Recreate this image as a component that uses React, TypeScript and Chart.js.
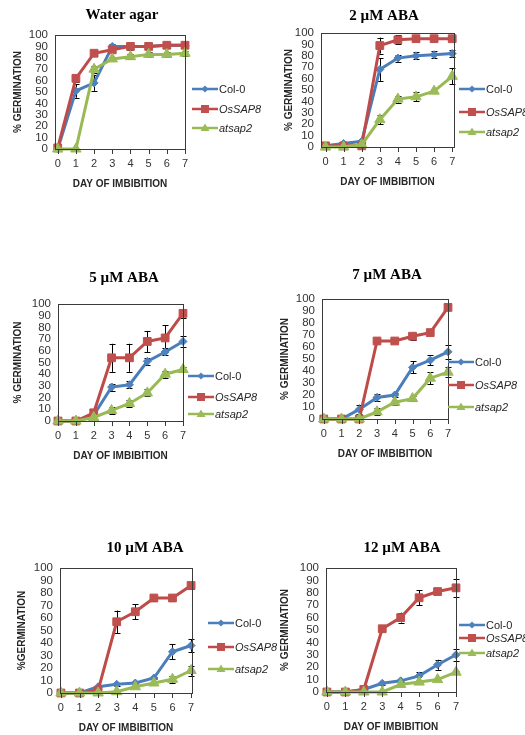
import React, { useEffect, useRef } from "react";
import { Chart, registerables } from "chart.js";
Chart.register(...registerables);

const days = [0, 1, 2, 3, 4, 5, 6, 7];
const yTickValues = [0, 10, 20, 30, 40, 50, 60, 70, 80, 90, 100];
const seriesNames = ["Col-0", "OsSAP8", "atsap2"];
const panelTitles = ["Water agar", "2 \u00b5M ABA", "5 \u00b5M ABA", "7 \u00b5M ABA", "10 \u00b5M ABA", "12 \u00b5M ABA"];
const yAxisTitles = ["% GERMINATION", "% GERMINATION", "% GERMINATION", "% GERMINATION", "%GERMINATION", "% GERMINATION"];
const xAxisTitle = "DAY OF IMBIBITION";

// Water agar
const waterCol0 = [0, 51, 58, 90, 90, 90, 91, 91];
const waterCol0Err = [0, 6, 7, 2, 2, 2, 2, 2];
const waterOsSAP8 = [1, 62, 84, 87, 90, 90, 91, 91];
const waterOsSAP8Err = [0, 3, 2, 2, 3, 2, 2, 2];
const waterAtsap2 = [0, 0, 70, 79, 81, 83, 83, 84];
const waterAtsap2Err = [0, 0, 3, 2, 2, 2, 2, 2];

// 2 uM ABA
const aba2Col0 = [1, 3, 5, 68, 78, 80, 81, 82];
const aba2Col0Err = [0, 1, 1, 10, 3, 3, 3, 3];
const aba2OsSAP8 = [1, 1, 1, 89, 94, 95, 95, 95];
const aba2OsSAP8Err = [0, 0, 0, 7, 4, 2, 2, 2];
const aba2Atsap2 = [0, 0, 2, 24, 42, 44, 49, 62];
const aba2Atsap2Err = [0, 0, 0, 4, 3, 4, 2, 7];

// 5 uM ABA
const aba5Col0 = [0, 0, 5, 29, 31, 51, 59, 68];
const aba5Col0Err = [0, 0, 1, 3, 3, 3, 3, 5];
const aba5OsSAP8 = [0, 0, 7, 54, 54, 68, 71, 92];
const aba5OsSAP8Err = [0, 0, 1, 12, 12, 9, 11, 4];
const aba5Atsap2 = [0, 0, 3, 9, 15, 24, 40, 44];
const aba5Atsap2Err = [0, 0, 1, 3, 3, 3, 3, 2];

// 7 uM ABA
const aba7Col0 = [0, 0, 8, 18, 20, 43, 49, 56];
const aba7Col0Err = [0, 0, 4, 3, 2, 5, 4, 6];
const aba7OsSAP8 = [0, 0, 0, 65, 65, 69, 72, 93];
const aba7OsSAP8Err = [0, 0, 0, 1, 1, 3, 1, 2];
const aba7Atsap2 = [0, 0, 0, 6, 14, 17, 34, 39];
const aba7Atsap2Err = [0, 0, 0, 3, 2, 2, 5, 4];

// 10 uM ABA
const aba10Col0 = [0, 0, 5, 7, 8, 12, 33, 38];
const aba10Col0Err = [0, 0, 0, 1, 1, 1, 6, 5];
const aba10OsSAP8 = [0, 0, 2, 57, 65, 76, 76, 86];
const aba10OsSAP8Err = [0, 0, 0, 9, 6, 2, 2, 3];
const aba10Atsap2 = [0, 0, 0, 1, 5, 8, 11, 18];
const aba10Atsap2Err = [0, 0, 0, 0, 1, 1, 3, 4];

// 12 uM ABA
const aba12Col0 = [0, 0, 2, 7, 9, 13, 22, 30];
const aba12Col0Err = [0, 0, 0, 1, 1, 3, 4, 5];
const aba12OsSAP8 = [0, 0, 2, 51, 60, 76, 81, 84];
const aba12OsSAP8Err = [0, 0, 0, 2, 4, 6, 2, 7];
const aba12Atsap2 = [0, 0, 0, 0, 6, 8, 10, 16];
const aba12Atsap2Err = [0, 0, 0, 0, 1, 1, 1, 1];

const panelValues = [
  [waterCol0, waterOsSAP8, waterAtsap2],
  [aba2Col0, aba2OsSAP8, aba2Atsap2],
  [aba5Col0, aba5OsSAP8, aba5Atsap2],
  [aba7Col0, aba7OsSAP8, aba7Atsap2],
  [aba10Col0, aba10OsSAP8, aba10Atsap2],
  [aba12Col0, aba12OsSAP8, aba12Atsap2],
];
const panelErrors = [
  [waterCol0Err, waterOsSAP8Err, waterAtsap2Err],
  [aba2Col0Err, aba2OsSAP8Err, aba2Atsap2Err],
  [aba5Col0Err, aba5OsSAP8Err, aba5Atsap2Err],
  [aba7Col0Err, aba7OsSAP8Err, aba7Atsap2Err],
  [aba10Col0Err, aba10OsSAP8Err, aba10Atsap2Err],
  [aba12Col0Err, aba12OsSAP8Err, aba12Atsap2Err],
];

// layout (page pixels)
const PAGE_W = 525;
const PAGE_H = 735;
const layouts = [
  { left: 55, right: 185, top: 35, bottom: 149, xMin: -0.15, xMax: 7, titleX: 122, titleY: 15, yTitleDx: -37, legX: 192, legY: [89, 109, 128] },
  { left: 321, right: 454, top: 33, bottom: 147, xMin: -0.25, xMax: 7.1, titleX: 384, titleY: 16, yTitleDx: -32, legX: 459, legY: [89, 112, 132] },
  { left: 58, right: 183, top: 304, bottom: 421, xMin: 0, xMax: 7, titleX: 124, titleY: 278, yTitleDx: -40, legX: 188, legY: [376, 397, 414] },
  { left: 322, right: 448, top: 299, bottom: 419, xMin: -0.1, xMax: 7, titleX: 387, titleY: 275, yTitleDx: -37, legX: 448, legY: [362, 385, 407] },
  { left: 60, right: 192, top: 568, bottom: 693, xMin: -0.05, xMax: 7.05, titleX: 145, titleY: 548, yTitleDx: -38, legX: 208, legY: [623, 647, 669] },
  { left: 326, right: 456, top: 568, bottom: 692, xMin: -0.05, xMax: 7, titleX: 402, titleY: 548, yTitleDx: -41, legX: 459, legY: [625, 638, 653] },
];

const lineColors = ["#4A7EBB", "#BE4B48", "#98B954"];
const fillColors = ["#4F81BD", "#C0504D", "#9BBB59"];
const pointStyles = ["rectRot", "rect", "triangle"];
const pointRadii = [4, 5.5, 6];
const legendItalic = [false, true, true];

const Y_AXIS_W = 40;
const X_AXIS_H = 24;

function makePlugin(p: number) {
  const L = layouts[p];
  return {
    id: "panel" + p,
    beforeDatasetsDraw(chart: any) {
      const ctx = chart.ctx;
      const xs = chart.scales.x;
      const ys = chart.scales.y;
      ctx.save();
      ctx.strokeStyle = "#000";
      ctx.lineWidth = 1;
      for (let s = 0; s < 3; s++) {
        const vals = panelValues[p][s];
        const errs = panelErrors[p][s];
        for (let j = 0; j < days.length; j++) {
          const e = errs[j];
          if (!e) continue;
          const x = Math.round(xs.getPixelForValue(days[j])) + 0.5;
          const y1 = ys.getPixelForValue(Math.min(100, vals[j] + e));
          const y2 = ys.getPixelForValue(Math.max(0, vals[j] - e));
          ctx.beginPath();
          ctx.moveTo(x, y1);
          ctx.lineTo(x, y2);
          ctx.moveTo(x - 3, Math.round(y1) + 0.5);
          ctx.lineTo(x + 3, Math.round(y1) + 0.5);
          if (vals[j] - e > 0) {
            ctx.moveTo(x - 3, Math.round(y2) + 0.5);
            ctx.lineTo(x + 3, Math.round(y2) + 0.5);
          }
          ctx.stroke();
        }
      }
      ctx.restore();
    },
    afterDatasetsDraw(chart: any) {
      const ctx = chart.ctx;
      const a = chart.chartArea;
      const xs = chart.scales.x;
      ctx.save();
      ctx.strokeStyle = "#3a3a3a";
      ctx.lineWidth = 1;
      ctx.strokeRect(Math.round(a.left) + 0.5, Math.round(a.top) + 0.5, Math.round(a.right - a.left), Math.round(a.bottom - a.top));
      ctx.beginPath();
      for (const d of days) {
        const x = Math.round(xs.getPixelForValue(d)) + 0.5;
        ctx.moveTo(x, Math.round(a.bottom));
        ctx.lineTo(x, Math.round(a.bottom) + 5);
      }
      ctx.stroke();
      ctx.restore();
    },
    afterDraw(chart: any) {
      const ctx = chart.ctx;
      const a = chart.chartArea;
      ctx.save();
      ctx.fillStyle = "#000";
      ctx.font = "bold 15px 'Liberation Serif'";
      ctx.textAlign = "center";
      ctx.textBaseline = "middle";
      ctx.fillText(panelTitles[p], L.titleX, L.titleY);
      ctx.fillStyle = "#262626";
      ctx.font = "bold 10px 'Liberation Sans'";
      ctx.fillText(xAxisTitle, (a.left + a.right) / 2, a.bottom + 35);
      ctx.save();
      ctx.translate(a.left + L.yTitleDx, (a.top + a.bottom) / 2);
      ctx.rotate(-Math.PI / 2);
      ctx.fillText(yAxisTitles[p], 0, 0);
      ctx.restore();
      for (let s = 0; s < 3; s++) {
        const y = L.legY[s];
        const x0 = L.legX;
        const x1 = x0 + 26;
        ctx.strokeStyle = lineColors[s];
        ctx.lineWidth = 2.5;
        ctx.beginPath();
        ctx.moveTo(x0, y);
        ctx.lineTo(x1, y);
        ctx.stroke();
        ctx.fillStyle = fillColors[s];
        const cx = (x0 + x1) / 2;
        ctx.beginPath();
        if (s === 0) {
          ctx.moveTo(cx, y - 3.5);
          ctx.lineTo(cx + 3.5, y);
          ctx.lineTo(cx, y + 3.5);
          ctx.lineTo(cx - 3.5, y);
          ctx.closePath();
        } else if (s === 1) {
          ctx.rect(cx - 4, y - 4, 8, 8);
        } else {
          ctx.moveTo(cx, y - 4.5);
          ctx.lineTo(cx + 4.5, y + 3);
          ctx.lineTo(cx - 4.5, y + 3);
          ctx.closePath();
        }
        ctx.fill();
        ctx.fillStyle = "#262626";
        ctx.font = (legendItalic[s] ? "italic " : "") + "11px 'Liberation Sans'";
        ctx.textAlign = "left";
        ctx.fillText(seriesNames[s], x1 + 1, y + 0.5);
      }
      ctx.restore();
    },
  };
}

function Panel({ p }: { p: number }) {
  const ref = useRef<HTMLCanvasElement>(null);
  useEffect(() => {
    const L = layouts[p];
    const datasets = seriesNames.map((name, s) => ({
      label: name,
      data: days.map((d, j) => ({ x: d, y: panelValues[p][s][j] })),
      borderColor: lineColors[s],
      backgroundColor: fillColors[s],
      pointBackgroundColor: fillColors[s],
      pointBorderColor: fillColors[s],
      pointStyle: pointStyles[s],
      pointRadius: pointRadii[s],
      pointBorderWidth: 1,
      borderWidth: 3,
      tension: 0,
      clip: false as any,
      order: 3 - s,
    }));
    const chart = new Chart(ref.current!, {
      type: "line",
      data: { datasets },
      plugins: [makePlugin(p)],
      options: {
        animation: false,
        responsive: false,
        events: [],
        layout: {
          padding: {
            left: L.left - Y_AXIS_W,
            top: L.top,
            right: PAGE_W - L.right,
            bottom: PAGE_H - L.bottom - X_AXIS_H,
          },
        },
        plugins: { legend: { display: false }, tooltip: { enabled: false }, title: { display: false } },
        scales: {
          x: {
            type: "linear",
            min: L.xMin,
            max: L.xMax,
            grid: { display: false, drawTicks: false },
            border: { display: false },
            afterBuildTicks: (scale: any) => {
              scale.ticks = days.map((v) => ({ value: v }));
            },
            afterFit: (scale: any) => {
              scale.height = X_AXIS_H;
            },
            ticks: {
              autoSkip: false,
              maxRotation: 0,
              padding: 8,
              color: "#333",
              font: { family: "'Liberation Sans'", size: 11 },
              callback: (v: any) => String(v),
            },
          },
          y: {
            type: "linear",
            min: 0,
            max: 100,
            grid: { display: false, drawTicks: false },
            border: { display: false },
            afterBuildTicks: (scale: any) => {
              scale.ticks = yTickValues.map((v) => ({ value: v }));
            },
            afterFit: (scale: any) => {
              scale.width = Y_AXIS_W;
            },
            ticks: {
              autoSkip: false,
              padding: 7,
              color: "#333",
              font: { family: "'Liberation Sans'", size: 11.5 },
              callback: (v: any) => String(v),
            },
          },
        },
      },
    });
    return () => chart.destroy();
  }, [p]);
  return (
    <canvas
      ref={ref}
      width={PAGE_W}
      height={PAGE_H}
      style={{ position: "absolute", left: 0, top: 0, width: PAGE_W, height: PAGE_H, pointerEvents: "none" }}
    />
  );
}

export default function App() {
  return (
    <div style={{ position: "absolute", left: 0, top: 0, width: PAGE_W, height: PAGE_H, background: "#fff" }}>
      {layouts.map((_, p) => (
        <Panel key={p} p={p} />
      ))}
    </div>
  );
}
